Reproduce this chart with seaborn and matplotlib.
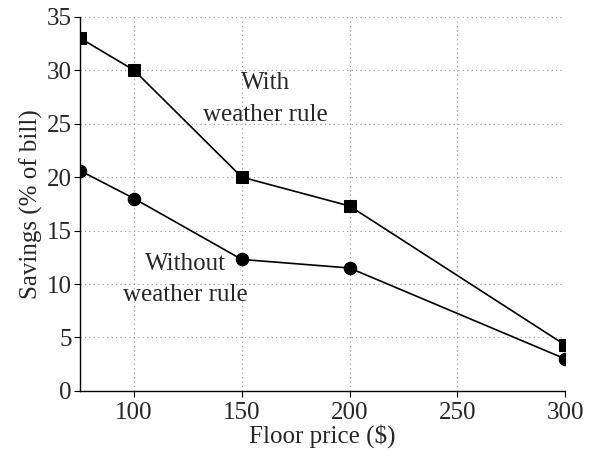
import matplotlib
matplotlib.use("Agg")
import matplotlib.pyplot as plt
import seaborn as sns
import pandas as pd

floor_price = [75, 100, 150, 200, 300]
with_rule = [33, 30, 20, 17.3, 4.3]
without_rule = [20.6, 18, 12.3, 11.5, 3]
x_ticks = [100, 150, 200, 250, 300]
y_ticks = [0, 5, 10, 15, 20, 25, 30, 35]

sns.set_style("ticks")
plt.rcParams['font.family'] = ['Liberation Serif', 'DejaVu Serif']

df = pd.DataFrame({
    "price": floor_price * 2,
    "savings": with_rule + without_rule,
    "series": ["With"] * len(floor_price) + ["Without"] * len(floor_price),
})

fig = plt.figure(figsize=(5.98, 4.53), dpi=100)
ax = fig.add_axes([0.134, 0.137, 0.811, 0.826])

sns.lineplot(data=df, x="price", y="savings", hue="series", style="series",
             markers={"With": "s", "Without": "o"}, dashes=False,
             palette={"With": "black", "Without": "black"},
             markersize=9, linewidth=1.2, markeredgecolor="black",
             legend=False, ax=ax)

ax.set_xlim(75, 300)
ax.set_ylim(0, 35)
ax.set_xticks(x_ticks)
ax.set_yticks(y_ticks)
ax.grid(True, linestyle=(0, (1, 3)), color="#999999", linewidth=0.8)
ax.set_axisbelow(True)
for s in ["top", "right"]:
    ax.spines[s].set_visible(False)
for s in ["left", "bottom"]:
    ax.spines[s].set_color("black")
    ax.spines[s].set_linewidth(1.0)
ax.tick_params(axis="both", labelsize=18, direction="out", length=4, color="black", pad=2)
ax.tick_params(axis="x", pad=4)
ax.set_xlabel("Floor price ($)", fontsize=18, labelpad=0)
ax.set_ylabel("Savings (% of bill)", fontsize=18, labelpad=3)

ax.text(161, 27.3, "With\nweather rule", ha="center", va="center", fontsize=18, linespacing=1.55)
ax.text(124, 10.4, "Without\nweather rule", ha="center", va="center", fontsize=18, linespacing=1.55)

fig.savefig("out.png", dpi=100)
